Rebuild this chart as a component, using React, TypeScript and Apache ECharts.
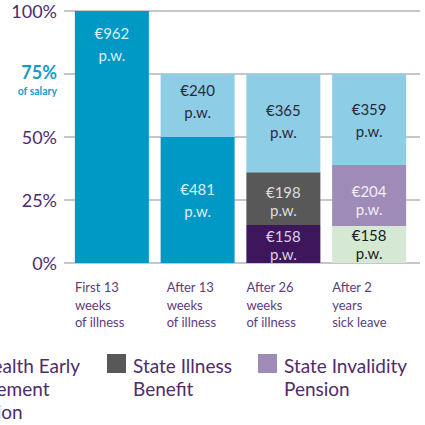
import React, { useEffect, useRef } from "react";
import * as echarts from "echarts";

const categories = ["First 13\nweeks\nof illness", "After 13\nweeks\nof illness", "After 26\nweeks\nof illness", "After 2\nyears\nsick leave"];
const yTicks = [0, 25, 50, 75, 100];

// share of salary (%) per segment, bottom to top
const salaryPay = [100, 50, null, null];
const salaryPayWeekly = [962, 481, null, null];
const earlyRetirement = [null, null, 15.1, null];
const earlyRetirementWeekly = [null, null, 158, null];
const otherPension = [null, null, null, 14.7];
const otherPensionWeekly = [null, null, null, 158];
const illnessBenefit = [null, null, 20.9, null];
const illnessBenefitWeekly = [null, null, 198, null];
const invalidityPension = [null, null, null, 24.2];
const invalidityPensionWeekly = [null, null, null, 204];
const incomeProtection = [null, 25, 39, 36.1];
const incomeProtectionWeekly = [null, 240, 365, 359];

const legendItems = [
  { name: "Ill-Health Early\nRetirement\nPension", color: "#3e165c" },
  { name: "State Illness\nBenefit", color: "#585858" },
  { name: "State Invalidity\nPension", color: "#9f8bb7" },
];

const FONT = "Lato";
const PURPLE_TEXT = "#4d2c6e";

export default function App() {
  const ref = useRef<HTMLDivElement>(null);
  useEffect(() => {
    if (!ref.current) return;
    const chart = echarts.init(ref.current, null, { renderer: "svg" });

    const mk = (
      name: string,
      values: (number | null)[],
      weekly: (number | null)[],
      color: string,
      labelColor: string,
      lineHeight: number,
      offsets: number[],
      positions?: string[]
    ) => ({
      name,
      type: "bar",
      stack: "total",
      xAxisIndex: 1,
      yAxisIndex: 1,
      barWidth: 74,
      itemStyle: { color },
      data: values.map((v, i) =>
        v == null
          ? null
          : {
              value: v,
              label: {
                offset: [0, offsets[i] || 0],
                position: positions ? positions[i] : "inside",
                distance: 11,
              },
            }
      ),
      label: {
        show: true,
        color: labelColor,
        fontFamily: FONT,
        fontSize: 15,
        lineHeight,
        formatter: (p: any) => `€${weekly[p.dataIndex]}\np.w.`,
      },
    });

    const graphics: any[] = [];
    const legendX = [-69, 107, 258];
    legendItems.forEach((it, i) => {
      graphics.push({
        type: "rect",
        shape: { x: legendX[i], y: 354, width: 19, height: 19 },
        style: { fill: it.color },
      });
      graphics.push({
        type: "text",
        x: legendX[i] + 26,
        y: 354,
        style: {
          text: it.name,
          fill: PURPLE_TEXT,
          font: `19px ${FONT}`,
          lineHeight: 23,
          textVerticalAlign: "top",
        },
      });
    });

    chart.setOption({
      animation: false,
      grid: [
        { left: 64, right: 5, top: 11, height: 252 },
        { left: 69, width: 343, top: 11, height: 252 },
      ],
      xAxis: [
        { gridIndex: 0, type: "value", show: false, min: 0, max: 1 },
        {
          gridIndex: 1,
          type: "category",
          data: categories,
          axisLine: { show: false },
          axisTick: { show: false },
          axisLabel: {
            interval: 0,
            margin: 15,
            formatter: (v: string, idx: number) =>
              v
                .split("\n")
                .map((l) => `{${idx === 1 ? "b" : "a"}|${l}}`)
                .join("\n"),
            rich: {
              a: { width: 74, align: "left", fontFamily: FONT, fontSize: 13, lineHeight: 17.7, color: "#5b3d7c" },
              b: { width: 68, padding: [0, 0, 0, 6], align: "left", fontFamily: FONT, fontSize: 13, lineHeight: 17.7, color: "#5b3d7c" },
            },
          },
        },
      ],
      yAxis: [
        {
          gridIndex: 0,
          type: "value",
          min: 0,
          max: 100,
          interval: 25,
          axisLine: { show: false },
          axisTick: { show: false },
          splitLine: { lineStyle: { color: "#b5b5b5", width: 1.5 } },
          axisLabel: {
            margin: 7,
            formatter: (v: number) =>
              v === 75 ? "{t|75%}\n{s|of salary}" : `{n|${v}%}`,
            rich: {
              n: { fontFamily: FONT, fontSize: 18, color: PURPLE_TEXT },
              t: { fontFamily: FONT, fontSize: 18, fontWeight: "bold", color: "#1a9cc7", lineHeight: 34, align: "right" },
              s: { fontFamily: FONT, fontSize: 10.5, fontWeight: "bold", color: "#1a9cc7", lineHeight: 4, align: "right" },
            },
          },
          customValues: yTicks,
        },
        { gridIndex: 1, type: "value", min: 0, max: 100, show: false },
      ],
      graphic: graphics,
      series: [
        mk("Salary / sick pay", salaryPay, salaryPayWeekly, "#0099c6", "#dceff7", 22, [0, 0], ["insideTop", "inside"]),
        mk("Ill-Health Early Retirement Pension", earlyRetirement, earlyRetirementWeekly, "#3e165c", "#dccfe8", 18, [0, 0, 1, 0]),
        mk("Pension", otherPension, otherPensionWeekly, "#d4e8d4", "#1c1c1c", 18, [0, 0, 0, 0]),
        mk("State Illness Benefit", illnessBenefit, illnessBenefitWeekly, "#585858", "#dddddd", 18, [0, 0, 2, 0]),
        mk("State Invalidity Pension", invalidityPension, invalidityPensionWeekly, "#9f8bb7", "#f2eef7", 18, [0, 0, 0, 5]),
        mk("Income Protection", incomeProtection, incomeProtectionWeekly, "#8ecde6", "#2a2a3a", 22, [0, -5, -2, 1]),
      ],
    });
    return () => chart.dispose();
  }, []);
  return <div ref={ref} style={{ width: 425, height: 425, position: "absolute", left: 0, top: 0 }} />;
}
